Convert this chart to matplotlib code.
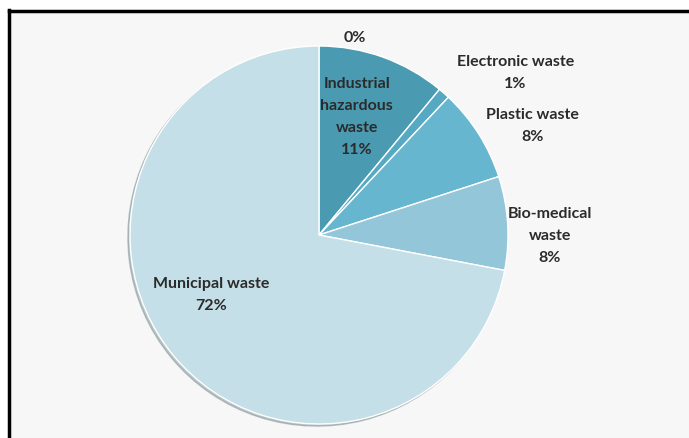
import matplotlib
matplotlib.use('Agg')
import matplotlib.pyplot as plt
from matplotlib.lines import Line2D
from matplotlib.patches import Rectangle

# waste categories, share in percent
kategorie = ['', 'Industrial\nhazardous\nwaste', 'Electronic waste', 'Plastic waste',
             'Bio-medical\nwaste', 'Municipal waste']
udzial = [0, 11, 1, 8, 8, 72]
kolory = ['#3f8fa6', '#4a9ab1', '#55a9c3', '#67b6cf', '#93c6d8', '#c4dfe7']

# where the labels go (unit radius)
pozycje = [(0.19, 1.05), (0.20, 0.63), (1.04, 0.86), (1.13, 0.58), (1.22, 0.0), (-0.57, -0.31)]

W, H = 689, 439
fig = plt.figure(figsize=(W / 100, H / 100), dpi=100)
fig.patch.set_facecolor('white')

# frame of the original figure
fig.patches.append(Rectangle((9 / W, 0), 1, 427 / H, transform=fig.transFigure,
                             facecolor='#f7f7f7', edgecolor='none', zorder=-5))
fig.lines.append(Line2D([9 / W, 9 / W], [0, 428 / H], transform=fig.transFigure,
                        color='black', linewidth=2.5, zorder=-4))
fig.lines.append(Line2D([9 / W, 1], [427 / H, 427 / H], transform=fig.transFigure,
                        color='black', linewidth=2.5, zorder=-4))

R = 189
cx, cy = 319, H - 236
ax = fig.add_axes([(cx - R) / W, (cy - R) / H, 2 * R / W, 2 * R / H])
ax.set_zorder(5)
ax.set_facecolor('none')

wedges, _ = ax.pie(udzial, colors=kolory, startangle=90, counterclock=False,
                   wedgeprops={'edgecolor': 'white', 'linewidth': 1.0},
                   shadow={'ox': -0.008, 'oy': -0.008, 'shade': 0.35})
ax.set_xlim(-1, 1)
ax.set_ylim(-1, 1)
ax.set_aspect('equal')
ax.axis('off')

for nazwa, wartosc, (x, y) in zip(kategorie, udzial, pozycje):
    tekst = (nazwa + '\n' if nazwa else '') + '%d%%' % wartosc
    ax.text(x, y, tekst, ha='center', va='center', fontsize=11.5, family='Lato',
            weight='bold', color='#2b2b2b', linespacing=1.72, clip_on=False)

plt.savefig('out.png', dpi=100)
